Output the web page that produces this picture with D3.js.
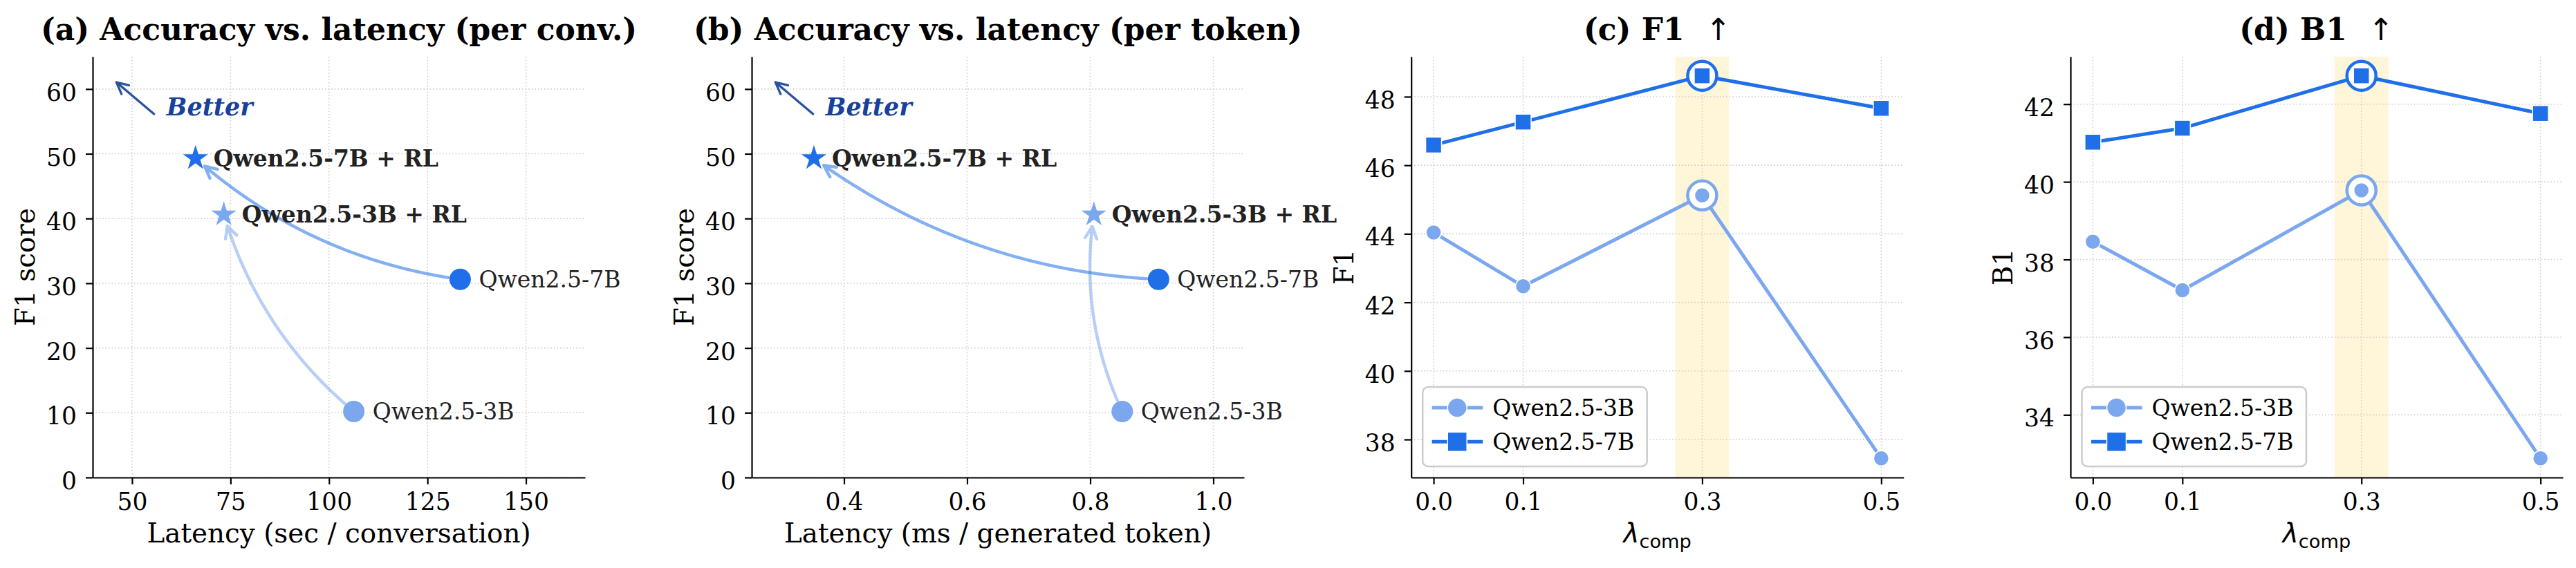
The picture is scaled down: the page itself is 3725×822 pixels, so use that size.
<!DOCTYPE html>
<html><head><meta charset="utf-8">
<script src="https://cdn.jsdelivr.net/npm/d3@7"></script>
<style>
body{margin:0;background:#fff}
svg{display:block}
</style>
</head><body>
<svg id="chart" width="3725" height="822"></svg>
<script>
// ---------------- DATA ----------------
const models = ["Qwen2.5-3B", "Qwen2.5-7B"];
const baseLatencyConv = [106.3, 133.3];   // sec / conversation
const rlLatencyConv   = [73.3, 66.1];
const baseLatencyTok  = [0.852, 0.911];   // ms / generated token
const rlLatencyTok    = [0.806, 0.351];
const baseF1 = [10.2, 30.6];
const rlF1   = [40.6, 49.3];

const lambdas = [0.0, 0.1, 0.3, 0.5];
const f1Qwen3B = [44.04, 42.47, 45.12, 37.45];
const f1Qwen7B = [46.59, 47.26, 48.61, 47.66];
const b1Qwen3B = [38.46, 37.21, 39.78, 32.88];
const b1Qwen7B = [41.02, 41.38, 42.73, 41.76];
const bestLambda = 0.3;
const bandRange = [0.27, 0.33];

const xTicksConv = [50, 75, 100, 125, 150];
const xTicksTok = [0.4, 0.6, 0.8, 1.0];
const yTicksScore = [0, 10, 20, 30, 40, 50, 60];
const yTicksF1 = [38, 40, 42, 44, 46, 48];
const yTicksB1 = [34, 36, 38, 40, 42];
const titles = ["(a) Accuracy vs. latency (per conv.)", "(b) Accuracy vs. latency (per token)", "(c) F1", "(d) B1"];

// ---------------- STYLE ----------------
const colors = ["#7ba7ee", "#1f6fe8"];
const SERIF = "DejaVu Serif";
const W = 712, TOP = 82, BOT = 691;
const lefts = [134, 1087, 2040.7, 2994];
const FS_TICK = 34.5, FS_LAB = 38.9, FS_TITLE = 44, FS_ANN = 33;

const svg = d3.select("#chart");

function drawAxes(g, x, y, xTicks, yTicks, xFmt, yFmt) {
  const [x0, x1] = x.range();
  const grid = g.append("g");
  grid.selectAll(".gx").data(xTicks).join("line")
    .attr("x1", d => x(d)).attr("x2", d => x(d)).attr("y1", BOT).attr("y2", TOP)
    .attr("stroke", "#cdcdcd").attr("stroke-width", 1.6).attr("stroke-dasharray", "1.6,3");
  grid.selectAll(".gy").data(yTicks).join("line")
    .attr("x1", x0).attr("x2", x1).attr("y1", d => y(d)).attr("y2", d => y(d))
    .attr("stroke", "#cdcdcd").attr("stroke-width", 1.6).attr("stroke-dasharray", "1.6,3");

  const ax = g.append("g").attr("transform", `translate(0,${BOT})`)
    .call(d3.axisBottom(x).tickValues(xTicks).tickFormat(xFmt).tickSize(10).tickSizeOuter(0));
  const ay = g.append("g").attr("transform", `translate(${x0},0)`)
    .call(d3.axisLeft(y).tickValues(yTicks).tickFormat(yFmt).tickSize(10).tickSizeOuter(0));
  for (const a of [ax, ay]) {
    a.attr("font-family", SERIF).attr("font-size", FS_TICK);
    a.select(".domain").attr("stroke", "#000").attr("stroke-width", 2.2);
    a.selectAll(".tick line").attr("stroke", "#000").attr("stroke-width", 2.2);
    a.selectAll(".tick text").attr("fill", "#000");
  }
  ax.selectAll(".tick text").attr("y", 47).attr("dy", 0);
  ay.selectAll(".tick text").attr("x", -23).attr("dy", "0.48em");
}

function title(g, cx, txt, arrow) {
  const t = g.append("text").attr("x", cx).attr("y", 58).attr("text-anchor", "middle")
    .attr("font-family", SERIF).attr("font-weight", "bold").attr("font-size", FS_TITLE).attr("fill", "#000");
  t.append("tspan").text(txt);
  if (arrow) t.append("tspan").attr("dx", 31).attr("font-family", "DejaVu Sans").attr("font-weight", "normal").text("↑");
}

function ylabel(g, x0, txt) {
  g.append("text").attr("transform", `translate(${x0 - 98},${(TOP + BOT) / 2}) rotate(-90)`)
    .attr("text-anchor", "middle").attr("dy", "0.36em")
    .attr("font-family", SERIF).attr("font-size", FS_LAB).attr("fill", "#000").text(txt);
}

function dist(a, b) { return Math.hypot(a[0] - b[0], a[1] - b[1]); }

function arrowPath(pts, headL, headW) {
  const tip = pts[pts.length - 1];
  const prev = pts[Math.max(0, pts.length - 4)];
  const L = dist(tip, prev);
  const u = [(tip[0] - prev[0]) / L, (tip[1] - prev[1]) / L];
  const n = [-u[1], u[0]];
  const h1 = [tip[0] - headL * u[0] + headW * n[0], tip[1] - headL * u[1] + headW * n[1]];
  const h2 = [tip[0] - headL * u[0] - headW * n[0], tip[1] - headL * u[1] - headW * n[1]];
  return d3.line()(pts) + `M${h1[0]},${h1[1]}L${tip[0]},${tip[1]}L${h2[0]},${h2[1]}`;
}

function curvedArrow(g, p1, p2, rad, color, op, shrink, lw) {
  const dx = p2[0] - p1[0], dy = p2[1] - p1[1];
  const mx = (p1[0] + p2[0]) / 2, my = (p1[1] + p2[1]) / 2;
  const c = [mx - rad * dy, my + rad * dx];
  const pts = [];
  for (let i = 0; i <= 600; i++) {
    const t = i / 600, a = (1 - t) * (1 - t), b = 2 * (1 - t) * t, e = t * t;
    pts.push([a * p1[0] + b * c[0] + e * p2[0], a * p1[1] + b * c[1] + e * p2[1]]);
  }
  let s = 0; while (s < pts.length - 1 && dist(pts[s], p1) < shrink) s++;
  let e = pts.length - 1; while (e > 0 && dist(pts[e], p2) < shrink) e--;
  g.append("path").attr("d", arrowPath(pts.slice(s, e + 1), 17, 8.5))
    .attr("fill", "none").attr("stroke", color).attr("stroke-opacity", op)
    .attr("stroke-width", lw).attr("stroke-linecap", "round").attr("stroke-linejoin", "round");
}

// ---------------- panels (a) & (b) ----------------
function scatterPanel(i, latBase, latRL, xDomain, xTicks, xFmt, xlab) {
  const x0 = lefts[i];
  const g = svg.append("g");
  const x = d3.scaleLinear().domain(xDomain).range([x0, x0 + W]);
  const y = d3.scaleLinear().domain([0, 65]).range([BOT, TOP]);
  drawAxes(g, x, y, xTicks, yTicksScore, xFmt, d3.format("d"));
  title(g, x0 + W / 2, titles[i], false);
  ylabel(g, x0, "F1 score");
  g.append("text").attr("x", x0 + W / 2).attr("y", 785).attr("text-anchor", "middle")
    .attr("font-family", SERIF).attr("font-size", FS_LAB).attr("fill", "#000").text(xlab);

  // "Better" arrow (axes fraction)
  const fx = f => x0 + f * W, fy = f => BOT - f * (BOT - TOP);
  const tail = [fx(0.1246), fy(0.8637)], head = [fx(0.0482), fy(0.9392)];
  g.append("path").attr("d", arrowPath([tail, head], 16.7, 8.3))
    .attr("fill", "none").attr("stroke", "#2a519e").attr("stroke-width", 3.3)
    .attr("stroke-linecap", "round").attr("stroke-linejoin", "round");
  g.append("text").attr("x", fx(0.15)).attr("y", fy(0.861))
    .attr("font-family", SERIF).attr("font-weight", "bold").attr("font-style", "italic")
    .attr("font-size", 35).attr("fill", "#17419b").text("Better");

  // curved improvement arrows
  models.forEach((m, k) => {
    curvedArrow(g, [x(latBase[k]), y(baseF1[k])], [x(latRL[k]), y(rlF1[k])], -0.15, colors[k], 0.55, 17, 4.5);
  });
  // markers
  models.forEach((m, k) => {
    g.append("circle").attr("cx", x(latBase[k])).attr("cy", y(baseF1[k])).attr("r", 15.5).attr("fill", colors[k]);
    g.append("path").attr("d", d3.symbol(d3.symbolStar, 19 * 19 / 0.8908130915292852)())
      .attr("transform", `translate(${x(latRL[k])},${y(rlF1[k])})`).attr("fill", colors[k]);
  });
  // labels
  models.forEach((m, k) => {
    g.append("text").attr("x", x(latBase[k]) + 27).attr("y", y(baseF1[k])).attr("dy", "0.36em")
      .attr("font-family", SERIF).attr("font-size", FS_ANN).attr("fill", "#222").text(m);
    g.append("text").attr("x", x(latRL[k]) + 26).attr("y", y(rlF1[k])).attr("dy", "0.36em")
      .attr("font-family", SERIF).attr("font-weight", "bold").attr("font-size", FS_ANN).attr("fill", "#222").text(m + " + RL");
  });
}

scatterPanel(0, baseLatencyConv, rlLatencyConv, [40, 165], xTicksConv, d3.format("d"), "Latency (sec / conversation)");
scatterPanel(1, baseLatencyTok, rlLatencyTok, [0.25, 1.05], xTicksTok, d3.format(".1f"), "Latency (ms / generated token)");

// ---------------- panels (c) & (d) ----------------
function linePanel(i, s3, s7, yTicks, ylab) {
  const x0 = lefts[i];
  const g = svg.append("g");
  const x = d3.scaleLinear().domain([-0.025, 0.525]).range([x0, x0 + W]);
  const all = s3.concat(s7);
  const lo = d3.min(all), hi = d3.max(all), m = (hi - lo) * 0.05;
  const y = d3.scaleLinear().domain([lo - m, hi + m]).range([BOT, TOP]);

  g.append("rect").attr("x", x(bandRange[0])).attr("width", x(bandRange[1]) - x(bandRange[0]))
    .attr("y", TOP).attr("height", BOT - TOP).attr("fill", "#fff5d8");
  drawAxes(g, x, y, lambdas, yTicks, d3.format(".1f"), d3.format("d"));
  title(g, x0 + W / 2, titles[i], true);
  ylabel(g, x0, ylab);
  const xl = g.append("text").attr("x", x0 + W / 2).attr("y", 785).attr("text-anchor", "middle")
    .attr("font-family", "DejaVu Sans").attr("fill", "#000");
  xl.append("tspan").attr("font-style", "italic").attr("font-size", FS_LAB).text("λ");
  xl.append("tspan").attr("font-size", 27.2).attr("dy", 8).text("comp");

  const series = [s3, s7];
  const line = d3.line().x((d, j) => x(lambdas[j])).y(d => y(d));
  series.forEach((s, k) => {
    g.append("path").attr("d", line(s)).attr("fill", "none").attr("stroke", colors[k])
      .attr("stroke-width", 5).attr("stroke-linejoin", "round");
  });
  series.forEach((s, k) => {
    const jb = lambdas.indexOf(bestLambda);
    g.append("circle").attr("cx", x(bestLambda)).attr("cy", y(s[jb])).attr("r", 21)
      .attr("fill", "#fff").attr("stroke", colors[k]).attr("stroke-width", 4.5);
    s.forEach((v, j) => {
      if (k === 0) {
        g.append("circle").attr("cx", x(lambdas[j])).attr("cy", y(v)).attr("r", 11)
          .attr("fill", colors[k]).attr("stroke", "#fff").attr("stroke-width", 1.5);
      } else {
        g.append("rect").attr("x", x(lambdas[j]) - 11.5).attr("y", y(v) - 11.5)
          .attr("width", 23).attr("height", 23)
          .attr("fill", colors[k]).attr("stroke", "#fff").attr("stroke-width", 1.5);
      }
    });
  });

  // legend
  const lx = x0 + 16.5, ly = 560;
  const lg = g.append("g");
  lg.append("rect").attr("x", lx).attr("y", ly).attr("width", 324.5).attr("height", 115)
    .attr("rx", 8).attr("fill", "#fff").attr("fill-opacity", 0.85).attr("stroke", "#cccccc").attr("stroke-width", 2.5);
  models.forEach((mname, k) => {
    const cy = ly + 30 + k * 49.3;
    lg.append("line").attr("x1", lx + 13.5).attr("x2", lx + 87).attr("y1", cy).attr("y2", cy)
      .attr("stroke", colors[k]).attr("stroke-width", 5);
    if (k === 0) {
      lg.append("circle").attr("cx", lx + 50).attr("cy", cy).attr("r", 14)
        .attr("fill", colors[k]).attr("stroke", "#fff").attr("stroke-width", 1.5);
    } else {
      lg.append("rect").attr("x", lx + 50 - 14).attr("y", cy - 14).attr("width", 28).attr("height", 28)
        .attr("fill", colors[k]).attr("stroke", "#fff").attr("stroke-width", 1.5);
    }
    lg.append("text").attr("x", lx + 101).attr("y", cy).attr("dy", "0.36em")
      .attr("font-family", SERIF).attr("font-size", FS_ANN).attr("fill", "#000").text(mname);
  });
}

linePanel(2, f1Qwen3B, f1Qwen7B, yTicksF1, "F1");
linePanel(3, b1Qwen3B, b1Qwen7B, yTicksB1, "B1");
</script>
</body></html>
